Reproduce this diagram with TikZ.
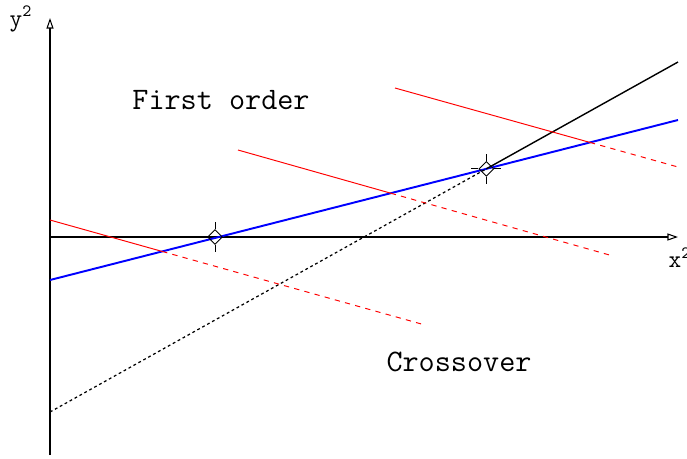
\documentclass[tikz,border=0pt]{standalone}
\usetikzlibrary{arrows.meta,shapes.geometric}
\tikzset{
  axis/.style={line width=0.6pt, -{Triangle[open,length=6pt,width=4pt]}},
  fitline/.style={blue, line width=1.1pt},
  refr/.style={red, line width=0.55pt},
  refrhid/.style={red, line width=0.55pt, dash pattern=on 3pt off 3pt},
  crossmark/.style={draw, diamond, inner sep=0pt, minimum size=8.5pt, line width=0.5pt, fill=none},
  lbl/.style={font=\fontsize{17.8}{20}\selectfont\ttfamily},
  axlbl/.style={font=\fontsize{14}{16}\selectfont\ttfamily}
}
\begin{document}
\begin{tikzpicture}[x=0.02cm,y=-0.02cm]
\useasboundingbox (0,0) rectangle (687,458);
% axes
\coordinate (o) at (50,237);
\coordinate (ytop) at (50,18);
\coordinate (ybot) at (50,455);
\coordinate (xend) at (678,237);
\draw[line width=0.6pt] (ybot) -- (o);
\draw[axis] (o) -- (ytop);
\draw[axis] (o) -- (xend);
\node[axlbl] (ylab) at (21,19) {y\textsuperscript{2}};
\node[axlbl] (xlab) at (680,258) {x\textsuperscript{2}};
% first-order line
\coordinate (b1) at (50,280);
\coordinate (b2) at (678,120);
\draw[fitline] (b1) -- (b2);
% second line, hidden part dotted
\coordinate (k1) at (50,412);
\coordinate (k2) at (678,62);
\coordinate (kx) at (intersection of b1--b2 and k1--k2);
\draw[line width=0.7pt, dash pattern=on 1.6pt off 1.6pt] (k1) -- (kx);
\draw[line width=0.8pt] (kx) -- (k2);
% reflected rays
\coordinate (r1a) at (50,220);
\coordinate (r1b) at (425,325);
\coordinate (r2a) at (238,150);
\coordinate (r2b) at (613,256);
\coordinate (r3a) at (395,88);
\coordinate (r3b) at (678,167);
\foreach \r in {r1,r2,r3} {
  \coordinate (\r x) at (intersection of b1--b2 and \r a--\r b);
  \draw[refr] (\r a) -- (\r x);
  \draw[refrhid] (\r x) -- (\r b);
}
% markers
\node[crossmark] (m1) at (215,237) {};
\draw[line width=0.5pt] (m1.north) -- ++(0,-7) (m1.south) -- ++(0,7);
\node[crossmark] (m2) at (kx) {};
\draw[line width=0.5pt] (m2.north) -- ++(0,-7) (m2.south) -- ++(0,7)
  (m2.west) -- ++(-7,0) (m2.east) -- ++(7,0);
% labels
\node[lbl] (first) at (221,100) {First order};
\node[lbl] (cross) at (459,362) {Crossover};
\end{tikzpicture}
\end{document}
